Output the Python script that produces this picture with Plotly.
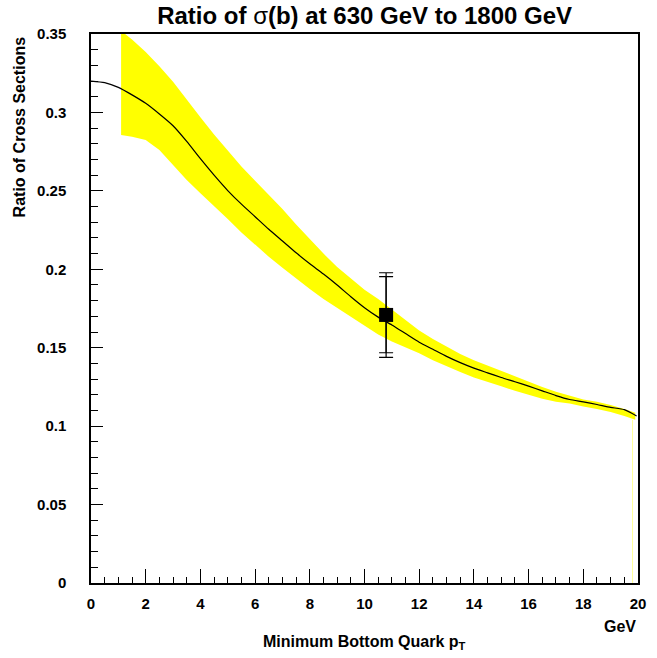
import plotly.graph_objects as go

# Central curve
curve_x = [0.0, 0.5, 1.0, 1.5, 2.0, 2.5, 3.0, 3.5, 4.0, 4.5, 5.0, 5.5, 6.0, 6.5, 7.0, 7.5,
           8.0, 8.5, 9.0, 9.5, 10.0, 10.5, 11.0, 11.5, 12.0, 12.5, 13.0, 13.5, 14.0, 14.5,
           15.0, 15.5, 16.0, 16.5, 17.0, 17.5, 18.0, 18.5, 19.0, 19.5, 19.95]
curve_y = [0.3200, 0.3190, 0.3160, 0.3112, 0.3058, 0.2990, 0.2915, 0.2815, 0.2705, 0.2600,
           0.2502, 0.2415, 0.2335, 0.2255, 0.2180, 0.2105, 0.2035, 0.1970, 0.1900, 0.1825,
           0.1755, 0.1695, 0.1645, 0.1590, 0.1535, 0.1490, 0.1445, 0.1405, 0.1370, 0.1340,
           0.1310, 0.1283, 0.1255, 0.1225, 0.1195, 0.1170, 0.1155, 0.1138, 0.1120, 0.1105,
           0.1065]

# Uncertainty band
band_x = [1.1, 1.5, 2.0, 2.5, 3.0, 3.5, 4.0, 4.5, 5.0, 5.5, 6.0, 6.5, 7.0, 7.5, 8.0, 8.5,
          9.0, 9.5, 10.0, 10.5, 11.0, 11.5, 12.0, 12.5, 13.0, 13.5, 14.0, 14.5, 15.0, 15.5,
          16.0, 16.5, 17.0, 17.5, 18.0, 18.5, 19.0, 19.5, 19.9]
band_hi = [0.3520, 0.3465, 0.3385, 0.3295, 0.3195, 0.3080, 0.2970, 0.2860, 0.2755, 0.2655,
           0.2565, 0.2475, 0.2385, 0.2285, 0.2190, 0.2100, 0.2015, 0.1945, 0.1870, 0.1810,
           0.1745, 0.1680, 0.1610, 0.1555, 0.1505, 0.1460, 0.1420, 0.1385, 0.1350, 0.1315,
           0.1280, 0.1250, 0.1220, 0.1195, 0.1170, 0.1155, 0.1135, 0.1110, 0.1085]
band_lo = [0.2856, 0.2845, 0.2825, 0.2760, 0.2665, 0.2570, 0.2484, 0.2400, 0.2320, 0.2235,
           0.2155, 0.2080, 0.2010, 0.1940, 0.1875, 0.1810, 0.1750, 0.1695, 0.1640, 0.1585,
           0.1540, 0.1500, 0.1465, 0.1420, 0.1380, 0.1345, 0.1310, 0.1280, 0.1255, 0.1225,
           0.1200, 0.1175, 0.1155, 0.1145, 0.1125, 0.1110, 0.1090, 0.1065, 0.1040]

# Data point
pt_x = [10.79]
pt_y = [0.1709]
stat_plus, stat_minus = [0.0244], [0.0241]
tot_plus, tot_minus = [0.0269], [0.0270]

x_ticks = [0, 2, 4, 6, 8, 10, 12, 14, 16, 18, 20]
y_ticks = [0, 0.05, 0.1, 0.15, 0.2, 0.25, 0.3, 0.35]
y_ticktext = ["0", "0.05", "0.1", "0.15", "0.2", "0.25", "0.3", "0.35"]

FONT = "Liberation Sans, Arial, sans-serif"

fig = go.Figure()

fig.add_trace(go.Scatter(
    x=band_x + band_x[::-1], y=band_hi + band_lo[::-1],
    fill="toself", fillcolor="#ffff00", line=dict(width=0), mode="lines",
    hoverinfo="skip", showlegend=False))

# faint vertical artefact at the band end
fig.add_trace(go.Scatter(
    x=[band_x[-2] + 0.3, band_x[-2] + 0.3], y=[0, band_lo[-1]],
    mode="lines", line=dict(color="#ffff99", width=1), showlegend=False, hoverinfo="skip"))

fig.add_trace(go.Scatter(
    x=curve_x, y=curve_y, mode="lines", line=dict(color="black", width=1.2, shape="spline", smoothing=0.6),
    showlegend=False))

fig.add_trace(go.Scatter(
    x=pt_x, y=pt_y, mode="markers",
    marker=dict(symbol="square", size=13, color="black", opacity=0),
    error_y=dict(type="data", symmetric=False, array=tot_plus, arrayminus=tot_minus,
                 color="black", thickness=1.2, width=7),
    showlegend=False))

fig.add_trace(go.Scatter(
    x=pt_x, y=pt_y, mode="markers",
    marker=dict(symbol="square", size=14, color="black"),
    error_y=dict(type="data", symmetric=False, array=stat_plus, arrayminus=stat_minus,
                 color="black", thickness=1.2, width=7),
    showlegend=False))

axis_common = dict(
    showline=True, linecolor="black", linewidth=1.5, mirror=True,
    showgrid=False, zeroline=False, ticks="inside", tickcolor="black",
    tickwidth=1.2,
    tickfont=dict(family=FONT, size=15, color="black", weight="bold"),
)

fig.update_xaxes(range=[0, 20], tickvals=x_ticks, ticklen=14, ticklabelstandoff=6,
                 minor=dict(dtick=0.5, ticks="inside", ticklen=6, tickcolor="black", tickwidth=1),
                 **axis_common)
fig.update_yaxes(range=[0, 0.35], tickvals=y_ticks, ticktext=y_ticktext, ticklen=12,
                 minor=dict(dtick=0.01, ticks="inside", ticklen=7, tickcolor="black", tickwidth=1),
                 ticklabelstandoff=20,
                 **axis_common)

fig.update_layout(
    width=657, height=658,
    margin=dict(l=91, r=19, t=34, b=75),
    plot_bgcolor="white", paper_bgcolor="white",
    font=dict(family=FONT, color="black"),
    title=dict(text="Ratio of <span style='font-weight:normal'>σ</span>(b) at 630 GeV to 1800 GeV",
               x=0.555, xanchor="center", y=0.977, yanchor="middle",
               font=dict(family=FONT, size=24, weight="bold", color="black")),
    annotations=[
        dict(text="Ratio of Cross Sections", textangle=-90, xref="paper", yref="paper",
             x=-0.13, xanchor="center", y=1.0, yanchor="top", showarrow=False,
             font=dict(family=FONT, size=16, weight="bold", color="black")),
        dict(text="Minimum Bottom Quark p<sub>T</sub>", xref="paper", yref="paper",
             x=0.5, xanchor="center", y=-0.088, yanchor="top", showarrow=False,
             font=dict(family=FONT, size=16, weight="bold", color="black")),
        dict(text="GeV", xref="paper", yref="paper",
             x=1.0, xanchor="right", y=-0.06, yanchor="top", showarrow=False,
             font=dict(family=FONT, size=16, weight="bold", color="black")),
    ],
)

fig.write_html("out.html")
